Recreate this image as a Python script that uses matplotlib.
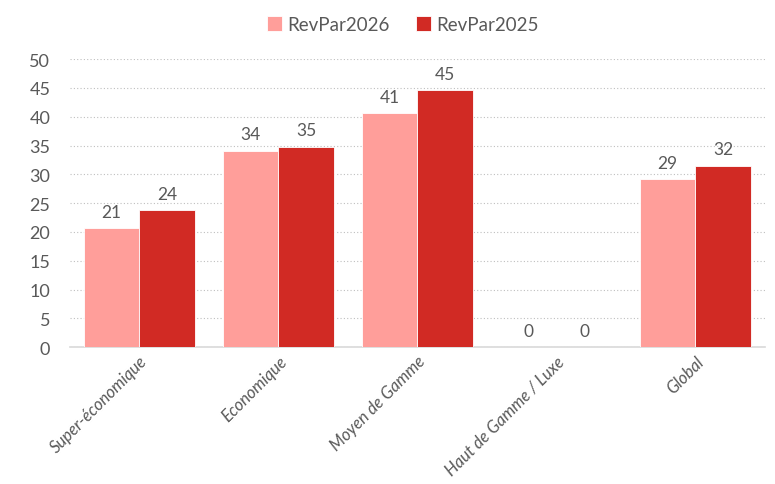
import matplotlib.pyplot as plt
import numpy as np

plt.rcParams['font.family'] = ['Lato', 'DejaVu Sans']

categories = ['Super-économique', 'Economique', 'Moyen de Gamme', 'Haut de Gamme / Luxe', 'Global']
revpar_2026 = [20.7, 34.1, 40.6, 0, 29.2]
revpar_2025 = [23.8, 34.8, 44.6, 0, 31.5]

light_red = '#FF9E9A'
dark_red = '#D12A24'
grey = '#595959'

fig = plt.figure(figsize=(7.75, 4.85), dpi=100)
ax = fig.add_axes([0.090, 0.282, 0.897, 0.594])

x = np.arange(len(categories))
w = 0.40
b1 = ax.bar(x - w / 2, revpar_2026, w, color=light_red, edgecolor='white', linewidth=0.6, label='RevPar2026', zorder=3)
b2 = ax.bar(x + w / 2, revpar_2025, w, color=dark_red, edgecolor='white', linewidth=0.6, label='RevPar2025', zorder=3)

# data labels
for bars, vals in [(b1, revpar_2026), (b2, revpar_2025)]:
    for rect, v in zip(bars, vals):
        ax.annotate(f'{round(v)}', (rect.get_x() + rect.get_width() / 2, v),
                    xytext=(0, 6), textcoords='offset points',
                    ha='center', va='bottom', fontsize=12.5, color=grey)

ax.set_ylim(0, 50)
ax.set_xlim(-0.5, len(categories) - 0.5)
ax.set_yticks(range(0, 51, 5))
ax.yaxis.grid(True, linestyle=(0, (1, 2)), color='#BFBFBF', linewidth=0.8, zorder=0)
ax.set_axisbelow(True)

for s in ['top', 'right', 'left']:
    ax.spines[s].set_visible(False)
ax.spines['bottom'].set_color('#D9D9D9')
ax.spines['bottom'].set_linewidth(1.2)

ax.tick_params(axis='both', length=0, colors=grey, labelsize=13)
ax.tick_params(axis='y', pad=14)
ax.set_xticks(x)
ax.set_xticklabels(categories, rotation=45, ha='right', rotation_mode='anchor',
                   fontsize=12, fontstyle='italic', fontweight='normal', color=grey)
ax.tick_params(axis='x', pad=4)

leg = fig.legend(loc='upper center', bbox_to_anchor=(0.52, 1.0), ncol=2, frameon=False,
                 fontsize=13.5, handlelength=0.8, handleheight=0.8, handletextpad=0.3,
                 columnspacing=1.4)
for t in leg.get_texts():
    t.set_color(grey)

fig.savefig('out.png', dpi=100)
